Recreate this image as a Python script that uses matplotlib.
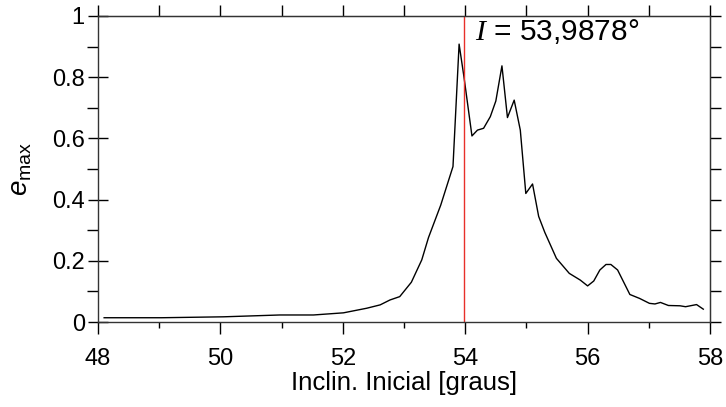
import matplotlib
matplotlib.use("Agg")
import matplotlib.pyplot as plt
from matplotlib.ticker import MultipleLocator, NullFormatter, FuncFormatter

plt.rcParams['font.family'] = ['Liberation Sans', 'DejaVu Sans']
plt.rcParams['mathtext.fontset'] = 'custom'
plt.rcParams['mathtext.rm'] = 'Liberation Sans'
plt.rcParams['mathtext.it'] = 'Liberation Sans:italic'
plt.rcParams['mathtext.cal'] = 'Liberation Serif:italic'

# inclinacao inicial [graus] e excentricidade maxima
incl = [48.10, 49.04, 50.05, 50.97, 51.52, 52.01, 52.39, 52.61, 52.77, 52.93,
        53.12, 53.29, 53.40, 53.60, 53.80, 53.90, 53.98, 54.11, 54.20, 54.30,
        54.41, 54.50, 54.60, 54.69, 54.80, 54.90, 54.99, 55.10, 55.20, 55.30,
        55.49, 55.70, 55.88, 56.00, 56.10, 56.20, 56.30, 56.38, 56.49, 56.58,
        56.69, 56.85, 57.01, 57.10, 57.19, 57.32, 57.51, 57.60, 57.78, 57.89]
emax = [0.014, 0.014, 0.017, 0.023, 0.023, 0.030, 0.045, 0.056, 0.072, 0.083,
        0.130, 0.203, 0.276, 0.382, 0.508, 0.908, 0.800, 0.608, 0.627, 0.633,
        0.671, 0.722, 0.837, 0.668, 0.725, 0.627, 0.420, 0.451, 0.345, 0.293,
        0.208, 0.159, 0.137, 0.118, 0.134, 0.170, 0.188, 0.188, 0.170, 0.134,
        0.090, 0.077, 0.061, 0.059, 0.064, 0.054, 0.053, 0.050, 0.057, 0.042]
i_crit = 53.9878

fig = plt.figure(figsize=(7.26, 4.07), dpi=100)
ax = fig.add_axes([0.135, 0.2088, 0.843, 0.752])

ax.plot(incl, emax, color='black', lw=1.0)
ax.axvline(i_crit, color='#e8302a', lw=1.0)
ax.text(54.16, 0.922, r'$\mathcal{I}$ = 53,9878°', fontsize=21.5, ha='left', va='baseline')

ax.set_xlim(48, 58)
ax.set_ylim(0, 1)
ax.xaxis.set_major_locator(MultipleLocator(2))
ax.xaxis.set_minor_locator(MultipleLocator(1))
ax.yaxis.set_major_locator(MultipleLocator(0.2))
ax.yaxis.set_minor_locator(MultipleLocator(0.1))
ax.yaxis.set_major_formatter(FuncFormatter(lambda v, p: '%g' % v))

for s in ax.spines.values():
    s.set_color('#333333')
    s.set_linewidth(1.0)

ax.tick_params(axis='x', which='major', direction='out', length=8.5, width=1, labelsize=17, pad=10)
ax.tick_params(axis='x', which='minor', direction='out', length=4.5, width=1)
ax.tick_params(axis='y', which='major', direction='inout', length=15, width=1, labelsize=17, pad=2)
ax.tick_params(axis='y', which='minor', direction='out', length=8, width=1)

top = ax.secondary_xaxis('top')
top.xaxis.set_major_locator(MultipleLocator(1))
top.xaxis.set_major_formatter(NullFormatter())
top.tick_params(direction='out', length=8, width=1)
right = ax.secondary_yaxis('right')
right.yaxis.set_major_locator(MultipleLocator(0.1))
right.yaxis.set_major_formatter(NullFormatter())
right.tick_params(direction='out', length=8, width=1)
for a in (top, right):
    for s in a.spines.values():
        s.set_color('#333333')

ax.set_xlabel('Inclin. Inicial [graus]', fontsize=18.5, labelpad=1)
ax.set_ylabel(r'$e_{\mathrm{max}}$', fontsize=20)
ax.yaxis.set_label_coords(-0.105, 0.5)

fig.savefig('out.png', dpi=100)
